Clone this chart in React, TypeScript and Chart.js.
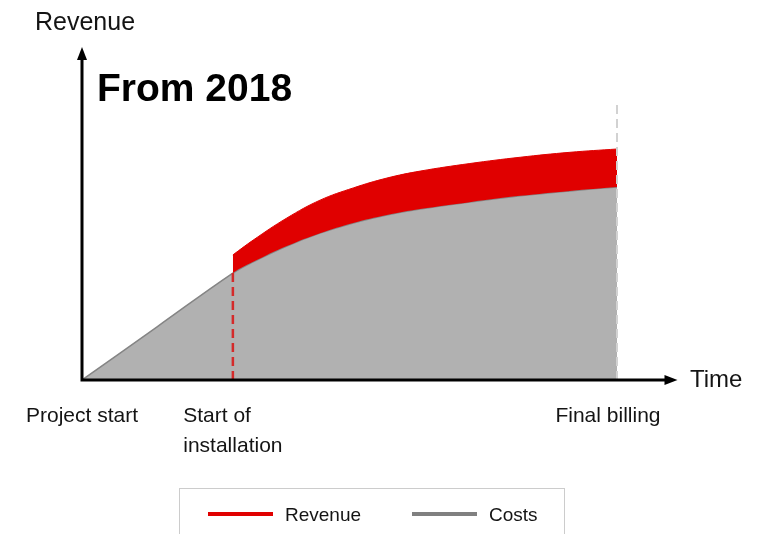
import React, { useEffect, useRef } from "react";
import { Chart, registerables } from "chart.js";

Chart.register(...registerables);

// ---- data ----
const costsTime = [0, 14.1, 28.2, 32, 38.3, 44.5, 50.7, 57, 63.2, 72.5, 81.9, 91.2, 100];
const costsValues = [0, 16.2, 32.4, 35.8, 40.6, 44.5, 47.6, 50.0, 51.8, 53.9, 55.8, 57.3, 58.5];
const revenueTime = [28.2, 32, 38.3, 44.5, 50.7, 57, 63.2, 72.5, 81.9, 91.2, 100];
const revenueValues = [37.9, 42.4, 49.1, 54.5, 58.2, 61.2, 63.3, 65.6, 67.5, 69.0, 70.0];
const milestoneTimes = [0, 28.2, 100];
const milestoneLabels = [["Project start"], ["Start of", "installation"], ["Final billing"]];
const installationTop = 32.4;
const finalBillingTop = 83.6;
const seriesLabels = ["Revenue", "Costs"];
const yAxisTitle = "Revenue";
const xAxisTitle = "Time";
const chartTitle = "From 2018";
const timeMax = 110;
const valueMax = 100;

const FONT = '"Liberation Sans", Arial, Helvetica, sans-serif';
const TEXT = "#141414";
const RED = "#e00000";
const GREY_FILL = "#b1b1b1";
const GREY_LINE = "#858585";

const pts = (xs: number[], ys: number[]) => xs.map((x, i) => ({ x, y: ys[i] }));

const decorPlugin = {
  id: "decor",
  afterDatasetsDraw(chart: any) {
    const ctx = chart.ctx as CanvasRenderingContext2D;
    const xs = chart.scales.x;
    const ys = chart.scales.y;
    const x0 = xs.getPixelForValue(0);
    const y0 = ys.getPixelForValue(0);
    const yTop = ys.getPixelForValue(valueMax) - 3;
    const xEnd = xs.getPixelForValue(timeMax) + 7;
    ctx.save();
    // axes
    ctx.strokeStyle = "#000";
    ctx.fillStyle = "#000";
    ctx.lineWidth = 3;
    ctx.lineCap = "butt";
    ctx.beginPath();
    ctx.moveTo(x0, y0 + 1.5);
    ctx.lineTo(x0, yTop + 10);
    ctx.moveTo(x0 - 1.5, y0);
    ctx.lineTo(xEnd - 10, y0);
    ctx.stroke();
    ctx.beginPath();
    ctx.moveTo(x0, yTop);
    ctx.lineTo(x0 - 5, yTop + 13);
    ctx.lineTo(x0 + 5, yTop + 13);
    ctx.closePath();
    ctx.fill();
    ctx.beginPath();
    ctx.moveTo(xEnd, y0);
    ctx.lineTo(xEnd - 13, y0 - 5);
    ctx.lineTo(xEnd - 13, y0 + 5);
    ctx.closePath();
    ctx.fill();

    // axis titles
    ctx.fillStyle = TEXT;
    ctx.textBaseline = "alphabetic";
    ctx.textAlign = "left";
    ctx.font = `25px ${FONT}`;
    ctx.fillText(yAxisTitle, 35, 30);
    ctx.font = `24px ${FONT}`;
    ctx.fillText(xAxisTitle, 690, 387);
    // big title
    ctx.fillStyle = "#000";
    ctx.font = `bold 39px ${FONT}`;
    ctx.fillText(chartTitle, 97, 101);

    // milestone labels
    ctx.fillStyle = TEXT;
    ctx.font = `21px ${FONT}`;
    const maxRight = xs.right - 10;
    milestoneTimes.forEach((t, i) => {
      const lines = milestoneLabels[i];
      const w = Math.max(...lines.map((l) => ctx.measureText(l).width));
      let left = xs.getPixelForValue(t) - w / 2;
      if (left + w > maxRight) left = maxRight - w;
      lines.forEach((l, j) => ctx.fillText(l, left, 422 + j * 30));
    });

    // legend
    ctx.strokeStyle = "#cccccc";
    ctx.lineWidth = 1;
    ctx.strokeRect(179.5, 488.5, 385, 60);
    const legendColors = [RED, "#808080"];
    const legendX = [208, 412];
    ctx.font = `19px ${FONT}`;
    seriesLabels.forEach((lab, i) => {
      ctx.strokeStyle = legendColors[i];
      ctx.lineWidth = 4;
      ctx.beginPath();
      ctx.moveTo(legendX[i], 514);
      ctx.lineTo(legendX[i] + 65, 514);
      ctx.stroke();
      ctx.fillStyle = TEXT;
      ctx.fillText(lab, legendX[i] + 77, 521);
    });
    ctx.restore();
  },
};

export default function App() {
  const ref = useRef<HTMLCanvasElement | null>(null);
  useEffect(() => {
    if (!ref.current) return;
    const chart = new Chart(ref.current, {
      type: "line",
      data: {
        datasets: [
          {
            label: "installation",
            data: pts([milestoneTimes[1], milestoneTimes[1]], [0, installationTop]),
            borderColor: "#d42a2a",
            borderWidth: 2.5,
            borderDash: [9, 5],
            pointRadius: 0,
            fill: false,
          },
          {
            label: "final billing",
            data: pts([milestoneTimes[2], milestoneTimes[2]], [0, finalBillingTop]),
            borderColor: "#d2d2d2",
            borderWidth: 2,
            borderDash: [9, 5],
            pointRadius: 0,
            fill: false,
          },
          {
            label: seriesLabels[0],
            data: pts(revenueTime, revenueValues),
            borderColor: RED,
            backgroundColor: RED,
            borderWidth: 1,
            pointRadius: 0,
            tension: 0.4,
            fill: 3,
          },
          {
            label: seriesLabels[1],
            data: pts(costsTime, costsValues),
            borderColor: GREY_LINE,
            backgroundColor: GREY_FILL,
            borderWidth: 1.5,
            pointRadius: 0,
            tension: 0.4,
            fill: "origin",
          },
        ],
      },
      options: {
        responsive: false,
        animation: false,
        devicePixelRatio: 1,
        layout: { padding: { left: 82, right: 92.5, top: 50, bottom: 154 } },
        scales: {
          x: { type: "linear", min: 0, max: timeMax, display: false },
          y: { type: "linear", min: 0, max: valueMax, display: false },
        },
        plugins: {
          legend: { display: false },
          tooltip: { enabled: false },
          title: { display: false },
        },
      },
      plugins: [decorPlugin],
    } as any);
    return () => chart.destroy();
  }, []);
  return (
    <div style={{ position: "fixed", left: 0, top: 0, width: 763, height: 534, background: "#fff" }}>
      <canvas ref={ref} width={763} height={534} style={{ display: "block" }} />
    </div>
  );
}
